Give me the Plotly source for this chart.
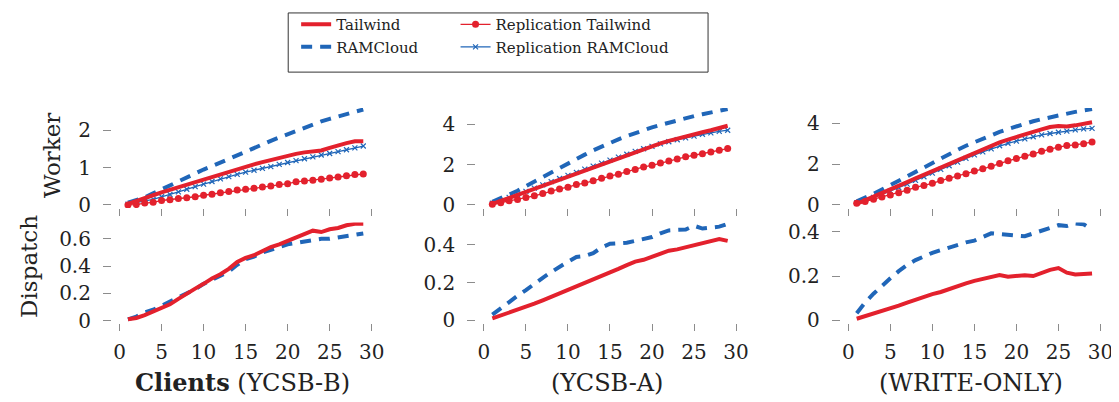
import plotly.graph_objects as go
from plotly.subplots import make_subplots

# ---------------- data ----------------
clients = list(range(1, 30))

# Worker core usage (top row)
worker_b_tailwind = [0.03, 0.10, 0.18, 0.26, 0.34, 0.41, 0.48, 0.55, 0.62, 0.68, 0.75, 0.82, 0.89, 0.96, 1.03,
                     1.09, 1.15, 1.21, 1.27, 1.33, 1.37, 1.41, 1.43, 1.46, 1.53, 1.60, 1.66, 1.71, 1.71]
worker_b_ramcloud = [0.06, 0.12, 0.20, 0.31, 0.42, 0.52, 0.63, 0.74, 0.85, 0.95, 1.04, 1.14, 1.24, 1.33, 1.42,
                     1.52, 1.62, 1.72, 1.81, 1.90, 1.99, 2.07, 2.15, 2.24, 2.31, 2.38, 2.44, 2.50, 2.56]
worker_b_rep_tailwind = [0.00, 0.01, 0.05, 0.07, 0.12, 0.14, 0.17, 0.19, 0.22, 0.26, 0.29, 0.33, 0.36, 0.40, 0.42,
                         0.45, 0.48, 0.51, 0.55, 0.57, 0.62, 0.64, 0.66, 0.69, 0.72, 0.75, 0.78, 0.82, 0.83]
worker_b_rep_ramcloud = [0.02, 0.06, 0.10, 0.15, 0.22, 0.28, 0.35, 0.42, 0.49, 0.56, 0.63, 0.70, 0.76, 0.82, 0.88,
                         0.93, 0.98, 1.03, 1.09, 1.14, 1.19, 1.24, 1.29, 1.34, 1.38, 1.43, 1.48, 1.53, 1.58]

worker_a_tailwind = [0.05, 0.20, 0.35, 0.50, 0.65, 0.81, 0.97, 1.13, 1.29, 1.44, 1.59, 1.75, 1.90, 2.05, 2.20,
                     2.35, 2.50, 2.64, 2.78, 2.92, 3.05, 3.17, 3.29, 3.40, 3.50, 3.60, 3.70, 3.80, 3.92]
worker_a_ramcloud = [0.15, 0.32, 0.50, 0.70, 0.93, 1.16, 1.39, 1.62, 1.85, 2.07, 2.28, 2.49, 2.70, 2.90, 3.08,
                     3.25, 3.41, 3.57, 3.71, 3.84, 3.96, 4.08, 4.19, 4.30, 4.40, 4.49, 4.58, 4.67, 4.75]
worker_a_rep_tailwind = [0.03, 0.11, 0.21, 0.27, 0.37, 0.45, 0.56, 0.69, 0.79, 0.88, 1.01, 1.08, 1.20, 1.32, 1.43,
                         1.52, 1.65, 1.75, 1.88, 1.96, 2.07, 2.17, 2.28, 2.38, 2.46, 2.54, 2.62, 2.71, 2.79]
worker_a_rep_ramcloud = [0.08, 0.22, 0.37, 0.52, 0.67, 0.83, 0.99, 1.15, 1.31, 1.46, 1.61, 1.77, 1.92, 2.07, 2.22,
                         2.37, 2.51, 2.65, 2.78, 2.90, 3.02, 3.13, 3.23, 3.32, 3.41, 3.50, 3.57, 3.64, 3.70]

worker_w_tailwind = [0.05, 0.22, 0.40, 0.58, 0.76, 0.94, 1.12, 1.30, 1.48, 1.66, 1.84, 2.02, 2.20, 2.38, 2.56,
                     2.73, 2.90, 3.06, 3.20, 3.34, 3.46, 3.58, 3.70, 3.82, 3.87, 3.84, 3.90, 3.96, 4.05]
worker_w_ramcloud = [0.18, 0.35, 0.54, 0.75, 0.97, 1.20, 1.42, 1.64, 1.86, 2.07, 2.28, 2.49, 2.70, 2.90, 3.08,
                     3.25, 3.42, 3.58, 3.72, 3.86, 3.98, 4.10, 4.20, 4.30, 4.40, 4.48, 4.56, 4.63, 4.70]
worker_w_rep_tailwind = [0.08, 0.16, 0.28, 0.39, 0.48, 0.59, 0.72, 0.86, 0.95, 1.06, 1.19, 1.30, 1.41, 1.53, 1.66,
                         1.77, 1.89, 2.03, 2.16, 2.27, 2.39, 2.50, 2.63, 2.73, 2.83, 2.91, 2.94, 3.00, 3.08]
worker_w_rep_ramcloud = [0.10, 0.22, 0.37, 0.52, 0.68, 0.85, 1.02, 1.20, 1.38, 1.56, 1.74, 1.92, 2.10, 2.28, 2.45,
                         2.60, 2.75, 2.90, 3.02, 3.13, 3.24, 3.34, 3.43, 3.50, 3.56, 3.62, 3.68, 3.73, 3.75]

# Dispatch core usage (bottom row)
dispatch_b_tailwind = [0.01, 0.02, 0.04, 0.065, 0.09, 0.12, 0.16, 0.20, 0.235, 0.27, 0.31, 0.34, 0.38, 0.43, 0.46,
                       0.48, 0.51, 0.54, 0.56, 0.585, 0.61, 0.64, 0.66, 0.65, 0.67, 0.68, 0.70, 0.71, 0.71]
dispatch_b_ramcloud = [0.01, 0.03, 0.06, 0.08, 0.11, 0.14, 0.17, 0.20, 0.23, 0.27, 0.30, 0.33, 0.36, 0.41, 0.45,
                       0.47, 0.50, 0.52, 0.54, 0.56, 0.57, 0.58, 0.59, 0.60, 0.60, 0.61, 0.62, 0.63, 0.64]
dispatch_a_tailwind = [0.01, 0.025, 0.04, 0.055, 0.07, 0.088, 0.106, 0.124, 0.142, 0.16, 0.178, 0.196, 0.214, 0.232,
                       0.252, 0.272, 0.292, 0.31, 0.32, 0.337, 0.355, 0.368, 0.375, 0.385, 0.40, 0.405, 0.418, 0.43, 0.42]
dispatch_a_ramcloud = [0.03, 0.065, 0.10, 0.13, 0.16, 0.195, 0.225, 0.255, 0.285, 0.31, 0.335, 0.34, 0.355, 0.385,
                       0.405, 0.405, 0.41, 0.42, 0.43, 0.44, 0.46, 0.475, 0.478, 0.48, 0.50, 0.485, 0.49, 0.495, 0.51]
dispatch_w_tailwind = [0.007, 0.018, 0.03, 0.04, 0.052, 0.066, 0.08, 0.094, 0.106, 0.118, 0.128, 0.142, 0.156, 0.167,
                       0.178, 0.186, 0.193, 0.204, 0.197, 0.20, 0.204, 0.20, 0.215, 0.228, 0.236, 0.215, 0.207, 0.208, 0.212]
dispatch_w_ramcloud = [0.032, 0.08, 0.12, 0.158, 0.19, 0.222, 0.25, 0.272, 0.29, 0.305, 0.317, 0.33, 0.343, 0.352,
                       0.36, 0.375, 0.393, 0.39, 0.385, 0.383, 0.38, 0.392, 0.404, 0.418, 0.43, 0.426, 0.438, 0.434, 0.41]

x_ticks = [0, 5, 10, 15, 20, 25, 30]
worker_ticks = [[0, 1, 2], [0, 2, 4], [0, 2, 4]]
dispatch_ticks = [[0, 0.2, 0.4, 0.6], [0, 0.2, 0.4], [0, 0.2, 0.4]]
workload_titles = ["<b>Clients</b> (YCSB-B)", "(YCSB-A)", "(WRITE-ONLY)"]
row_titles = ["Worker", "Dispatch"]
series_names = ["Tailwind", "Replication Tailwind", "RAMCloud", "Replication RAMCloud"]

# ---------------- styling ----------------
W, H = 1119, 402
RED = "#e3212d"
BLUE = "#2066b8"
FONT = "DejaVu Serif"
TICKGRAY = "#8c8c8c"

fig = make_subplots(rows=2, cols=3)

worker = [
    (worker_b_tailwind, worker_b_rep_tailwind, worker_b_ramcloud, worker_b_rep_ramcloud),
    (worker_a_tailwind, worker_a_rep_tailwind, worker_a_ramcloud, worker_a_rep_ramcloud),
    (worker_w_tailwind, worker_w_rep_tailwind, worker_w_ramcloud, worker_w_rep_ramcloud),
]
dispatch = [
    (dispatch_b_tailwind, dispatch_b_ramcloud),
    (dispatch_a_tailwind, dispatch_a_ramcloud),
    (dispatch_w_tailwind, dispatch_w_ramcloud),
]


def style(name):
    if name == "Tailwind":
        return dict(mode="lines", line=dict(color=RED, width=4), legend="legend")
    if name == "RAMCloud":
        return dict(mode="lines", line=dict(color=BLUE, width=4, dash="11px,8px"), legend="legend")
    if name == "Replication Tailwind":
        return dict(mode="lines+markers", line=dict(color=RED, width=1.3),
                    marker=dict(symbol="circle", size=7, color=RED), legend="legend2")
    return dict(mode="lines+markers", line=dict(color=BLUE, width=1.3),
                marker=dict(symbol="x-thin", size=5, line=dict(color=BLUE, width=1.2)), legend="legend2")


for c in range(3):
    tw, rtw, rc, rrc = worker[c]
    for name, ys in [("RAMCloud", rc), ("Replication RAMCloud", rrc),
                     ("Replication Tailwind", rtw), ("Tailwind", tw)]:
        fig.add_trace(go.Scatter(x=clients, y=ys, name=name, showlegend=(c == 0),
                                 legendrank=series_names.index(name) + 1, **style(name)),
                      row=1, col=c + 1)
    dtw, drc = dispatch[c]
    for name, ys in [("RAMCloud", drc), ("Tailwind", dtw)]:
        fig.add_trace(go.Scatter(x=clients, y=ys, name=name, showlegend=False, **style(name)),
                      row=2, col=c + 1)

# geometry in pixels
col_left = [105, 473, 841]
col_w = 264
rows_px = [(100, 203), (218, 322)]
worker_ranges = [[-0.08, 2.6], [-0.15, 4.8], [-0.15, 4.75]]
dispatch_ranges = [[-0.02, 0.72], [-0.016, 0.517], [-0.014, 0.442]]

for r in range(2):
    top, bot = rows_px[r]
    for c in range(3):
        idx = r * 3 + c + 1
        xa = "xaxis" if idx == 1 else f"xaxis{idx}"
        ya = "yaxis" if idx == 1 else f"yaxis{idx}"
        fig.layout[xa].update(
            domain=[col_left[c] / W, (col_left[c] + col_w) / W],
            range=[-0.9, 30.2], tickvals=x_ticks, ticktext=[str(v) for v in x_ticks],
            showticklabels=(r == 1), ticks="outside", ticklen=7, tickwidth=1, tickcolor=TICKGRAY,
            showline=False, showgrid=False, zeroline=False,
            tickfont=dict(family=FONT, size=20, color="#222"), ticklabelstandoff=4,
        )
        tv = worker_ticks[c] if r == 0 else dispatch_ticks[c]
        rng = worker_ranges[c] if r == 0 else dispatch_ranges[c]
        fig.layout[ya].update(
            domain=[1 - bot / H, 1 - top / H], range=rng,
            tickvals=tv, ticktext=[("0" if v == 0 else f"{v:g}") for v in tv],
            ticks="outside", ticklen=8, tickwidth=1, tickcolor=TICKGRAY,
            showline=False, showgrid=False, zeroline=False,
            tickfont=dict(family=FONT, size=20, color="#222"), ticklabelstandoff=8,
        )

annotations = []
for title, (xp, yp) in zip(row_titles, [(44, 149), (21, 263)]):
    annotations.append(dict(text=title, x=xp / W, y=1 - yp / H, xref="paper", yref="paper",
                            xanchor="center", yanchor="middle", textangle=-90, showarrow=False,
                            font=dict(family=FONT, size=23, color="#222")))
for c, t in enumerate(workload_titles):
    annotations.append(dict(text=t, x=(col_left[c] + col_w / 2) / W, y=1 - 383 / H,
                            xref="paper", yref="paper", xanchor="center", yanchor="middle",
                            showarrow=False, font=dict(family=FONT, size=24, color="#222")))

fig.update_layout(
    width=W, height=H, margin=dict(l=0, r=0, t=0, b=0),
    paper_bgcolor="white", plot_bgcolor="white",
    font=dict(family=FONT),
    annotations=annotations,
    legend=dict(x=291 / W, y=1 + 3 / H, xanchor="left", yanchor="top", orientation="v",
                bgcolor="rgba(0,0,0,0)", borderwidth=0, tracegroupgap=0,
                font=dict(family=FONT, size=15, color="#222")),
    legend2=dict(x=452 / W, y=1 + 3 / H, xanchor="left", yanchor="top", orientation="v",
                 bgcolor="rgba(0,0,0,0)", borderwidth=0, tracegroupgap=0,
                 font=dict(family=FONT, size=15, color="#222")),
    shapes=[dict(type="rect", xref="paper", yref="paper",
                 x0=283 / W, x1=707 / W, y0=1 - 63 / H, y1=1 - 2 / H,
                 line=dict(color="#333", width=1), fillcolor="rgba(0,0,0,0)")],
)

fig.write_html("out.html")
